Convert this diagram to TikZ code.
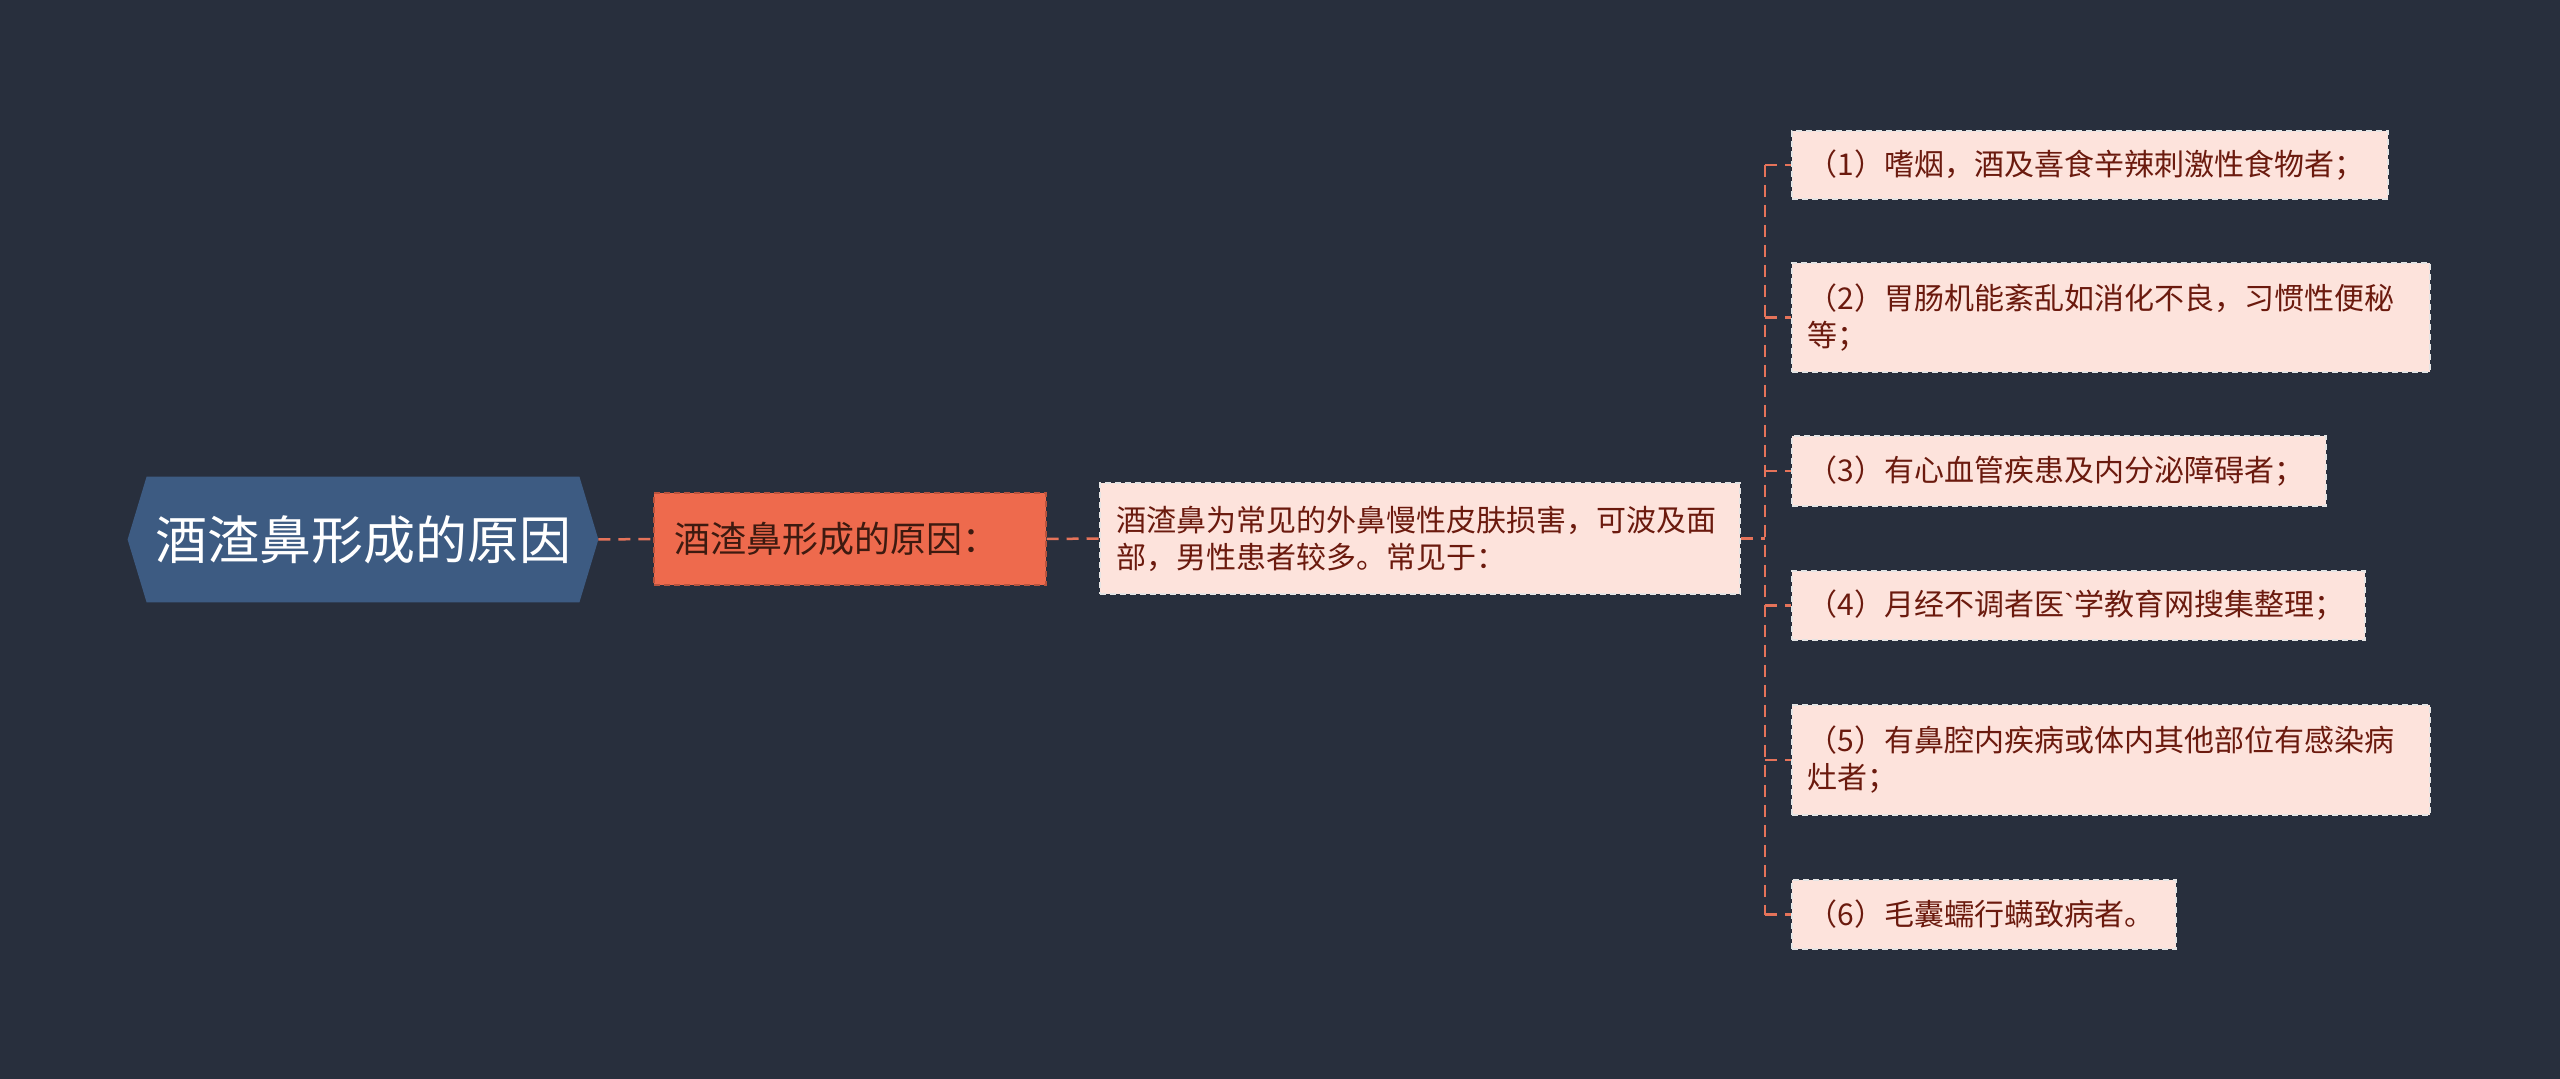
\documentclass[tikz,border=0pt]{standalone}
\usepackage{fontspec}
\setmainfont{Noto Sans CJK SC}
\newfontfamily\gravefont{Liberation Sans}
\usetikzlibrary{backgrounds}
\definecolor{bgcol}{HTML}{282F3D}
\definecolor{rootblue}{HTML}{3D5B82}
\definecolor{orangefill}{HTML}{EE6A4D}
\definecolor{orangeedge}{HTML}{B9533D}
\definecolor{pinkfill}{HTML}{FDE3DC}
\definecolor{pinkedge}{HTML}{E4E4E4}
\definecolor{darktext}{HTML}{3D1A10}
\definecolor{redtext}{HTML}{6B1A0E}
\definecolor{conncol}{HTML}{E5735A}
\begin{document}
\begin{tikzpicture}[x=0.5pt,y=-0.5pt,
  rootnode/.style={rectangle, inner sep=0pt, minimum width=216pt, minimum height=62.5pt,
     text=white, font=\fontsize{26pt}{30pt}\selectfont},
  midnode/.style={rectangle, anchor=west, fill=orangefill, draw=orangeedge, line width=0.75pt,
     dash pattern=on 3pt off 2pt, inner xsep=10.5pt, inner ysep=0pt, text width=175pt,
     align=left, minimum height=46pt, text=darktext, font=\fontsize{18pt}{22pt}\selectfont},
  pinknode/.style={rectangle, anchor=west, fill=pinkfill, draw=pinkedge, line width=0.75pt,
     dash pattern=on 3pt off 2pt, inner xsep=8pt, inner ysep=0pt,
     align=left, text=redtext, font=\fontsize{15pt}{18.5pt}\selectfont},
  conn/.style={draw=conncol, line width=1.25pt, dash pattern=on 6pt off 4pt}]
\useasboundingbox (0,0) rectangle (2560,1079);

\node[rootnode] (root) at (363,539.5) {酒渣鼻形成的原因};
\node[midnode] (A) at (653,539) {酒渣鼻形成的原因：};
\node[pinknode, inner xsep=8.5pt, text width=303pt, minimum height=55.5pt] (B) at (1099,538.5)
  {酒渣鼻为常见的外鼻慢性皮肤损害，可波及面\\部，男性患者较多。常见于：};

\node[pinknode, text width=282pt, minimum height=34pt] (L1) at (1791,165)
  {（1）嗜烟，酒及喜食辛辣刺激性食物者；};
\node[pinknode, text width=303pt, minimum height=54.5pt] (L2) at (1791,317.5)
  {（2）胃肠机能紊乱如消化不良，习惯性便秘\\等；};
\node[pinknode, text width=251pt, minimum height=35pt] (L3) at (1791,471)
  {（3）有心血管疾患及内分泌障碍者；};
\node[pinknode, text width=270.5pt, minimum height=34.5pt] (L4) at (1791,605.5)
  {（4）月经不调者医{\gravefont\symbol{96}}学教育网搜集整理；};
\node[pinknode, text width=303pt, minimum height=55pt] (L5) at (1791,760)
  {（5）有鼻腔内疾病或体内其他部位有感染病\\灶者；};
\node[pinknode, text width=176pt, minimum height=34.5pt] (L6) at (1791,914.5)
  {（6）毛囊蠕行螨致病者。};

\begin{scope}[on background layer]
  \fill[bgcol] (0,0) rectangle (2560,1079);
  \fill[rootblue] ([xshift=-9.5pt]root.west) -- (root.north west) -- (root.north east)
     -- ([xshift=9.5pt]root.east) -- (root.south east) -- (root.south west) -- cycle;
\end{scope}

\coordinate (bus) at (1765,538.5);
\draw[conn] ([xshift=9.5pt]root.east) -- (A.west);
\draw[conn] (A.east) -- (B.west);
\draw[conn] (B.east) -- (bus);
\draw[conn] (bus |- L1.west) -- (bus |- L6.west);
\foreach \n in {L1,L2,L3,L4,L5,L6}
  \draw[conn] (bus |- \n.west) -- (\n.west);
\end{tikzpicture}
\end{document}
